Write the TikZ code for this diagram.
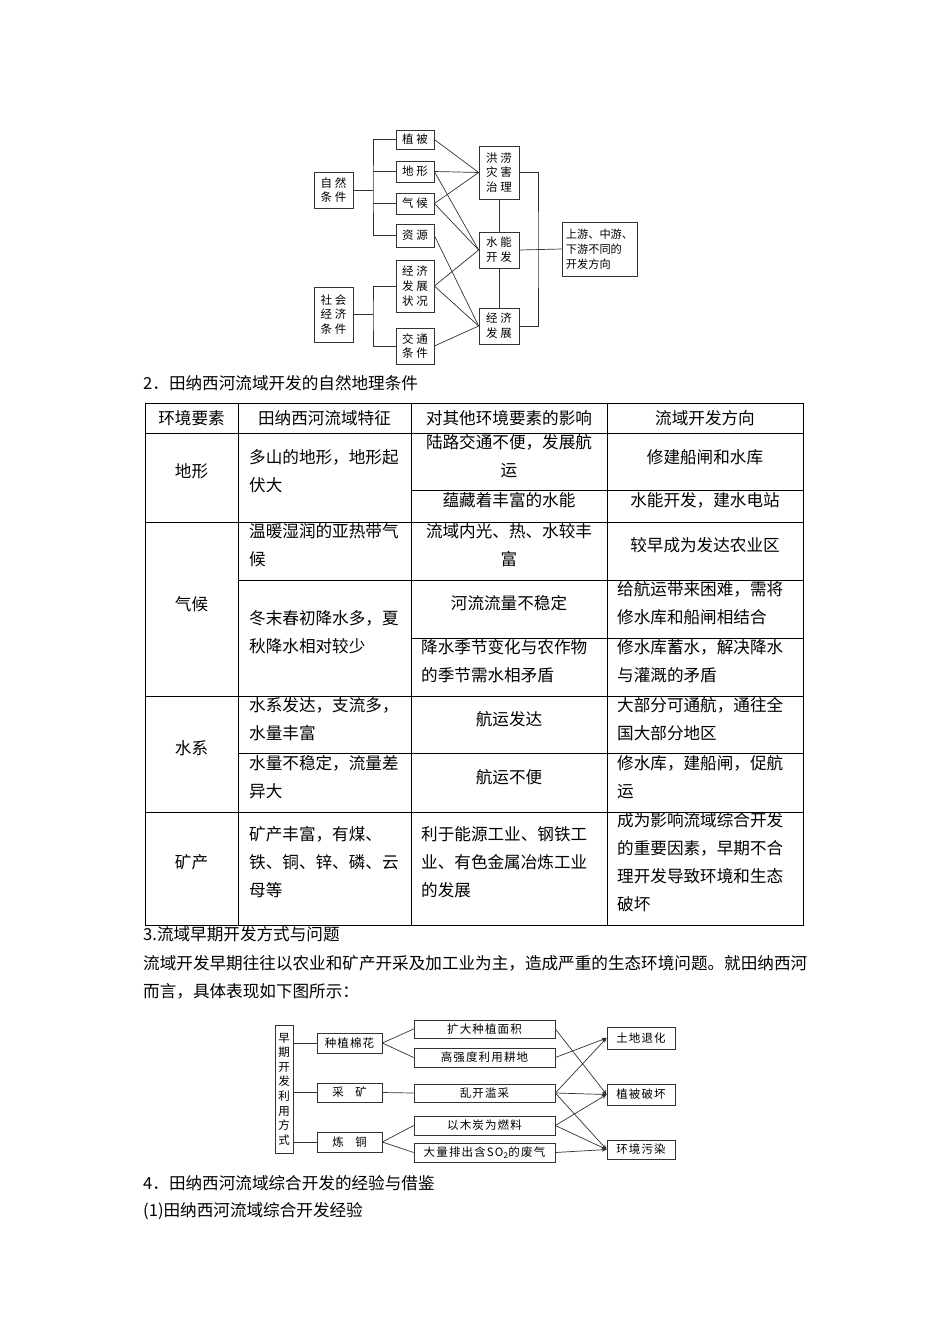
\documentclass[tikz,border=0pt]{standalone}
\usepackage{fontspec}
\setmainfont{Noto Sans CJK SC}
\newfontfamily\dgwide[LetterSpace=22]{Noto Sans CJK SC}
\newfontfamily\dgsemi[LetterSpace=10]{Noto Sans CJK SC}
\usepackage{tikz}
\usetikzlibrary{arrows.meta,positioning,calc}

\begin{document}
\begin{tikzpicture}[x=1pt,y=-1pt,
  txt/.style={inner sep=0pt,font=\fontsize{16.6}{28}\selectfont},
  cell/.style={txt,align=center},
  lcell/.style={txt,align=left,anchor=west},
  box/.style={draw=black!80,line width=0.7pt,inner sep=0pt,align=center,font=\dgwide\fontsize{11.5}{14.8}\selectfont},
  sbox/.style={box,font=\dgsemi\fontsize{11.5}{14.6}\selectfont},
  link/.style={draw=black!80,line width=0.7pt},
  arr/.style={link,-{Stealth[length=5pt,width=4pt]}},
  rule/.style={line width=0.8pt}
]
\fill[white] (0,0) rectangle (950,1344);

% factors -> directions
\node[box,minimum width=39,minimum height=36] (nat) at (333.5,190) {自然\\条件};
\node[box,minimum width=39,minimum height=55] (soc) at (333.5,314.5) {社会\\经济\\条件};
\node[box,minimum width=38,minimum height=19] (zb) at (415,139.5) {植被};
\node[box,minimum width=38,minimum height=21] (dx) at (415,171.5) {地形};
\node[box,minimum width=38,minimum height=21] (qh) at (415,203.5) {气候};
\node[box,minimum width=38,minimum height=23] (zy) at (415,235.5) {资源};
\node[box,minimum width=38,minimum height=52] (jjzk) at (415,286) {经济\\发展\\状况};
\node[box,minimum width=38,minimum height=36] (jt) at (415,346) {交通\\条件};
\node[box,minimum width=40,minimum height=53] (hl) at (499,172.5) {洪涝\\灾害\\治理};
\node[box,minimum width=40,minimum height=36] (sn) at (499,250) {水能\\开发};
\node[box,minimum width=40,minimum height=36] (jf) at (499,326) {经济\\发展};
\node[box,font=\fontsize{11.2}{15}\selectfont,align=left,minimum width=75,minimum height=54] (fx) at (599.5,249) {上游、中游、\\下游不同的\\开发方向};
\coordinate (busL) at (373,190);
\coordinate (busS) at (373,314.5);
\coordinate (busR) at (538,250);
\draw[link] (zb.west) -| (busL) |- (zy.west);
\draw[link] (dx.west) -- (dx.west -| busL);
\draw[link] (qh.west) -- (qh.west -| busL);
\draw[link] (nat.east) -- (busL);
\draw[link] (jjzk.west) -| (busS) |- (jt.west);
\draw[link] (soc.east) -- (busS);
\draw[link] (hl.east) -| (busR) |- (jf.east);
\draw[link] (sn.east) -- (fx.west);
\draw[link] (hl.south) -- (sn.north);
\draw[link] (sn.south) -- (jf.north);
\foreach \a/\b in {zb/hl,dx/hl,qh/hl,dx/sn,qh/sn,jjzk/sn,zy/jf,jjzk/jf,jt/jf}
  \draw[link] (\a.east) -- (\b.west);

\node[txt,anchor=west] (t2) at (143,383) {2．田纳西河流域开发的自然地理条件};

% table
\draw[rule] (145,403) rectangle (803,925);
\foreach \y in {433,522,696,812} \draw[rule] (145,\y) -- (803,\y);
\foreach \x in {238,411,607} \draw[rule] (\x,403) -- (\x,925);
\draw[rule] (411,490) -- (803,490);
\draw[rule] (238,580) -- (803,580);
\draw[rule] (411,638) -- (803,638);
\draw[rule] (238,753) -- (803,753);

\node[cell] (h1) at (191.5,418) {环境要素};
\node[cell] (h2) at (324.5,418) {田纳西河流域特征};
\node[cell] (h3) at (509,418) {对其他环境要素的影响};
\node[cell] (h4) at (705,418) {流域开发方向};

\node[cell] (dx1) at (191.5,471) {地形};
\node[lcell] (dx2) at (249,471) {多山的地形，地形起\\伏大};
\node[cell] (dx3) at (509,456) {陆路交通不便，发展航\\运};
\node[cell] (dx4) at (705,457) {修建船闸和水库};
\node[cell] (dx5) at (509,500) {蕴藏着丰富的水能};
\node[cell] (dx6) at (705,500) {水能开发，建水电站};

\node[cell] (qh1) at (191.5,604) {气候};
\node[lcell] (qh2) at (249,545) {温暖湿润的亚热带气\\候};
\node[cell] (qh3) at (509,545) {流域内光、热、水较丰\\富};
\node[cell] (qh4) at (705,545) {较早成为发达农业区};
\node[lcell] (qh5) at (249,632) {冬末春初降水多，夏\\秋降水相对较少};
\node[cell] (qh6) at (509,603) {河流流量不稳定};
\node[lcell] (qh7) at (617,603) {给航运带来困难，需将\\修水库和船闸相结合};
\node[lcell] (qh8) at (421,661) {降水季节变化与农作物\\的季节需水相矛盾};
\node[lcell] (qh9) at (617,661) {修水库蓄水，解决降水\\与灌溉的矛盾};

\node[cell] (sx1) at (191.5,748) {水系};
\node[lcell] (sx2) at (249,719) {水系发达，支流多，\\水量丰富};
\node[cell] (sx3) at (509,719) {航运发达};
\node[lcell] (sx4) at (617,719) {大部分可通航，通往全\\国大部分地区};
\node[lcell] (sx5) at (249,777) {水量不稳定，流量差\\异大};
\node[cell] (sx6) at (509,777) {航运不便};
\node[lcell] (sx7) at (617,777) {修水库，建船闸，促航\\运};

\node[cell] (kc1) at (191.5,862) {矿产};
\node[lcell] (kc2) at (249,862) {矿产丰富，有煤、\\铁、铜、锌、磷、云\\母等};
\node[lcell] (kc3) at (421,862) {利于能源工业、钢铁工\\业、有色金属冶炼工业\\的发展};
\node[lcell] (kc4) at (617,862) {成为影响流域综合开发\\的重要因素，早期不合\\理开发导致环境和生态\\破坏};

\node[txt,anchor=west] (t3) at (143,934) {3.流域早期开发方式与问题};
\node[txt,anchor=west] (p1) at (143,963) {流域开发早期往往以农业和矿产开采及加工业为主，造成严重的生态环境问题。就田纳西河};
\node[txt,anchor=west] (p2) at (143,991) {而言，具体表现如下图所示：};

% early development -> problems
\node[sbox,minimum width=18,minimum height=128] (way) at (284,1089) {早\\期\\开\\发\\利\\用\\方\\式};
\node[sbox,minimum width=65,minimum height=20] (zm) at (349.5,1043) {种植棉花};
\node[sbox,minimum width=65,minimum height=19] (ck) at (349.5,1092.5) {采\quad 矿};
\node[sbox,minimum width=65,minimum height=20] (lt) at (349.5,1142) {炼\quad 铜};
\node[sbox,minimum width=141,minimum height=18] (kd) at (484.5,1029) {扩大种植面积};
\node[sbox,minimum width=141,minimum height=19] (gq) at (484.5,1057.5) {高强度利用耕地};
\node[sbox,minimum width=141,minimum height=18] (lk) at (484.5,1093) {乱开滥采};
\node[sbox,minimum width=141,minimum height=19] (ym) at (484.5,1125.5) {以木炭为燃料};
\node[sbox,minimum width=141,minimum height=19] (dl) at (484.5,1152.5) {大量排出含SO\textsubscript{2}的废气};
\node[sbox,minimum width=68,minimum height=22] (td) at (641,1038) {土地退化};
\node[sbox,minimum width=68,minimum height=21] (zp) at (641,1094.5) {植被破坏};
\node[sbox,minimum width=68,minimum height=19] (hw) at (641,1149.5) {环境污染};
\foreach \n in {zm,ck,lt} \draw[link] (\n.west) -- (\n.west -| way.east);
\foreach \a/\b in {zm/kd,zm/gq,ck/lk,lt/ym,lt/dl} \draw[link] (\a.east) -- (\b.west);
\foreach \a/\b in {kd/zp,gq/td,lk/td,lk/zp,lk/hw,ym/zp,ym/hw,dl/hw}
  \draw[arr] (\a.east) -- (\b.west);

\node[txt,anchor=west] (t4) at (143,1183) {4．田纳西河流域综合开发的经验与借鉴};
\node[txt,anchor=west] (t41) at (143,1211) {(1)田纳西河流域综合开发经验};
\end{tikzpicture}
\end{document}
